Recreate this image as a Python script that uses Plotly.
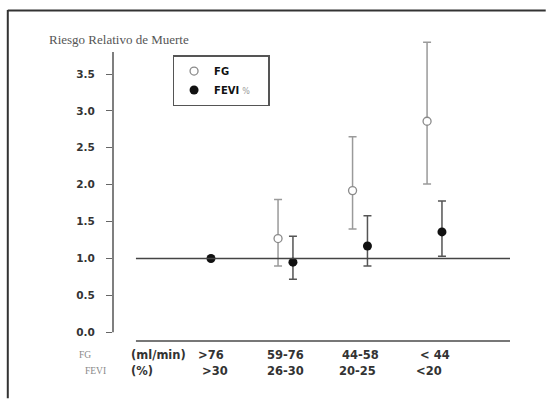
import plotly.graph_objects as go

# ---- data ----
fg_labels = [">76", "59-76", "44-58", "< 44"]
fevi_labels = [">30", "26-30", "20-25", "<20"]
fg_rr = [None, 1.27, 1.92, 2.86]
fg_hi = [None, 1.80, 2.65, 3.93]
fg_lo = [None, 0.90, 1.40, 2.01]
fevi_rr = [1.00, 0.95, 1.17, 1.36]
fevi_hi = [1.00, 1.30, 1.58, 1.78]
fevi_lo = [1.00, 0.72, 0.90, 1.03]
y_ticks = [0.0, 0.5, 1.0, 1.5, 2.0, 2.5, 3.0, 3.5]

OFF = 0.1
idx = list(range(len(fg_labels)))
fg_x = [i - OFF for i in idx]
fevi_x = [i + OFF if fg_rr[i] is not None else i for i in idx]


def errs(v, hi, lo):
    p = [None if a is None else h - a for a, h in zip(v, hi)]
    m = [None if a is None else a - l for a, l in zip(v, lo)]
    return p, m


fg_p, fg_m = errs(fg_rr, fg_hi, fg_lo)
fe_p, fe_m = errs(fevi_rr, fevi_hi, fevi_lo)

LBL_FONT = "DejaVu Sans"
SERIF = "Liberation Serif"
PAD = "<span style='font-size:7px;color:rgba(255,255,255,0)'>MM</span>"

fig = go.Figure()
fig.add_trace(go.Scatter(
    x=fg_x, y=fg_rr, mode="markers", name="<b>FG</b>",
    marker=dict(symbol="circle", size=8, color="white",
                line=dict(color="#8a8a8a", width=1.3)),
    error_y=dict(type="data", symmetric=False, array=fg_p, arrayminus=fg_m,
                 color="#9a9a9a", thickness=1.5, width=4),
))
fig.add_trace(go.Scatter(
    x=fevi_x, y=fevi_rr, mode="markers",
    name="<b>FEVI</b> <span style='font-size:8px;color:#999999'>%</span>" + PAD,
    marker=dict(symbol="circle", size=9, color="#111111"),
    error_y=dict(type="data", symmetric=False, array=fe_p, arrayminus=fe_m,
                 color="#555555", thickness=1.5, width=4),
))

X_LEFT = -1.007
X_RIGHT = 4.013
shapes = [
    dict(type="line", xref="x", yref="y", x0=X_LEFT, x1=X_RIGHT, y0=1, y1=1,
         line=dict(color="#444444", width=1.3)),
    dict(type="line", xref="x", yref="paper", x0=X_LEFT, x1=X_RIGHT, y0=0, y1=0,
         line=dict(color="#777777", width=2)),
    dict(type="line", xref="paper", yref="y", x0=0, x1=0, y0=0, y1=3.8,
         line=dict(color="#555555", width=1.5)),
    # outer frame: left and top edges
    dict(type="line", xref="paper", yref="paper", x0=-0.265, x1=-0.265,
         y0=1.1, y1=-0.19, line=dict(color="#333333", width=2)),
    dict(type="line", xref="paper", yref="paper", x0=-0.265, x1=1.09,
         y0=1.098, y1=1.098, line=dict(color="#333333", width=2)),
]

annotations = [
    dict(text="Riesgo Relativo de Muerte", xref="paper", yref="paper",
         x=-0.166, y=1.003, xanchor="left", yanchor="middle", showarrow=False,
         font=dict(family=SERIF, size=13, color="#555555")),
    dict(text="FG", xref="paper", yref="paper", x=-0.07, y=-0.046,
         xanchor="center", yanchor="middle", showarrow=False,
         font=dict(family=SERIF, size=9.5, color="#888888")),
    dict(text="FEVI", xref="paper", yref="paper", x=-0.044, y=-0.1,
         xanchor="center", yanchor="middle", showarrow=False,
         font=dict(family=SERIF, size=9.5, color="#888888")),
    dict(text="<b>(ml/min)</b>", xref="paper", yref="paper", x=0.04, y=-0.046,
         xanchor="left", yanchor="middle", showarrow=False,
         font=dict(family=LBL_FONT, size=11.5, color="#333333")),
    dict(text="<b>(%)</b>", xref="paper", yref="paper", x=0.04, y=-0.1,
         xanchor="left", yanchor="middle", showarrow=False,
         font=dict(family=LBL_FONT, size=11.5, color="#333333")),
]
row1_shift = [0.0, 0.0, 0.0, 0.0]
row2_shift = [0.06, 0.0, -0.03, -0.08]
for i in idx:
    annotations.append(dict(text="<b>%s</b>" % fg_labels[i], xref="x", yref="paper",
                            x=i + row1_shift[i], y=-0.046, xanchor="center",
                            yanchor="middle", showarrow=False,
                            font=dict(family=LBL_FONT, size=11.5, color="#333333")))
    annotations.append(dict(text="<b>%s</b>" % fevi_labels[i], xref="x", yref="paper",
                            x=i + row2_shift[i], y=-0.1, xanchor="center",
                            yanchor="middle", showarrow=False,
                            font=dict(family=LBL_FONT, size=11.5, color="#333333")))

fig.update_layout(
    width=549, height=401,
    margin=dict(l=113, r=39, t=40, b=60),
    paper_bgcolor="white", plot_bgcolor="white",
    showlegend=True,
    legend=dict(x=0.15, y=0.95, xanchor="left", yanchor="top",
                bgcolor="white", bordercolor="#555555", borderwidth=1.5,
                font=dict(family=LBL_FONT, size=10, color="#111111"),
                itemwidth=30, tracegroupgap=0),
    modebar=dict(bgcolor="rgba(0,0,0,0)", color="rgba(0,0,0,0)",
                 activecolor="rgba(0,0,0,0)"),
    xaxis=dict(range=[-1.315, X_RIGHT], showgrid=False, zeroline=False,
               showline=False, showticklabels=False, ticks=""),
    yaxis=dict(range=[-0.118, 3.961], tickvals=y_ticks,
               ticktext=["<b>%.1f</b>" % v for v in y_ticks],
               showgrid=False, zeroline=False, showline=False,
               ticks="outside", ticklen=6, tickcolor="#666666", tickwidth=1,
               ticklabelstandoff=9,
               tickfont=dict(family=LBL_FONT, size=10.5, color="#333333")),
    shapes=shapes, annotations=annotations,
)

post = (
    "document.body.style.margin='0';"
    "document.body.style.overflow='hidden';"
    "var s=document.createElement('style');"
    "s.textContent='.modebar-container{display:none !important;}';"
    "document.head.appendChild(s);"
)
fig.write_html("out.html", post_script=post)
